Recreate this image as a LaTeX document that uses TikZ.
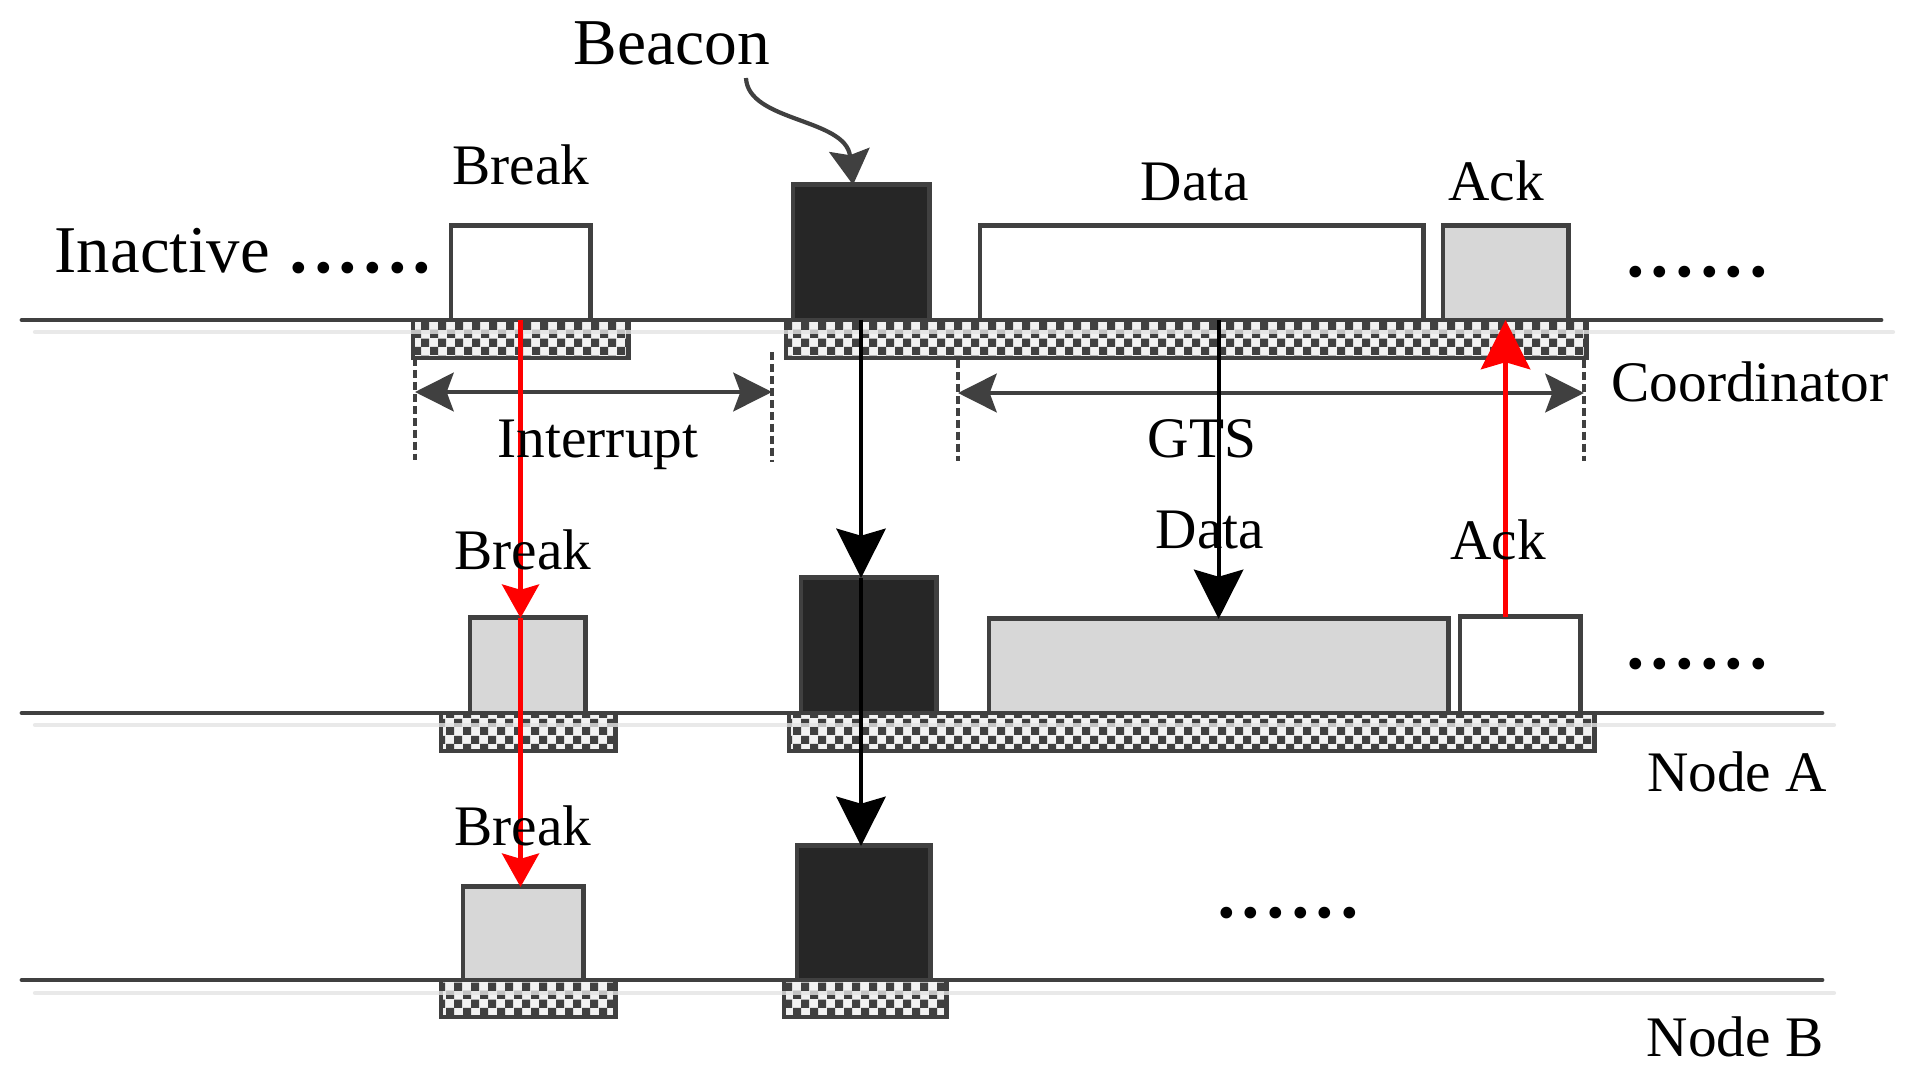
\documentclass[tikz,border=0pt]{standalone}
\usepackage{fontspec}
\setmainfont{Liberation Serif}
\usetikzlibrary{arrows.meta,patterns}

% chequered slot bars
\pgfdeclarepatternformonly{chequer}{\pgfqpoint{0pt}{0pt}}{\pgfqpoint{4.7pt}{4.7pt}}{\pgfqpoint{4.7pt}{4.7pt}}{%
  \pgfpathrectangle{\pgfqpoint{0pt}{0pt}}{\pgfqpoint{2.35pt}{2.35pt}}%
  \pgfpathrectangle{\pgfqpoint{2.35pt}{2.35pt}}{\pgfqpoint{2.35pt}{2.35pt}}%
  \pgfusepath{fill}}

\definecolor{linegray}{HTML}{404040}
\definecolor{beaconfill}{HTML}{262626}
\definecolor{slotgray}{HTML}{D7D7D7}
\definecolor{shadowgray}{HTML}{E3E3E3}
\definecolor{chklight}{HTML}{F2F2F2}

\tikzset{
  slot/.style={draw=linegray, line width=1.4pt, inner sep=0pt, outer sep=0pt, anchor=south west},
  bar/.style={draw=linegray, line width=1.4pt, inner sep=0pt, outer sep=0pt, anchor=north west,
    minimum height=0.38cm, preaction={fill=chklight}, pattern=chequer, pattern color=linegray},
  lbl/.style={anchor=base, inner sep=0pt, font=\fontsize{16.3}{19}\selectfont},
  dots/.style={anchor=base, inner sep=0pt, font=\fontsize{28}{30}\selectfont},
  timeline/.style={draw=linegray, line width=1.4pt, line cap=round},
  shadow/.style={draw=shadowgray, line width=1.2pt, line cap=round, opacity=.8},
  bound/.style={draw=linegray, line width=1.1pt, dash pattern=on 2.3pt off 1.1pt},
  span/.style={draw=linegray, line width=1.2pt,
    {Stealth[length=11pt,width=11pt,inset=2pt]}-{Stealth[length=11pt,width=11pt,inset=2pt]}},
  bigtip/.style={-{Stealth[length=14pt,width=14pt,inset=2pt]}},
  smalltip/.style={-{Stealth[length=9.5pt,width=10.5pt,inset=1.5pt]}},
  redline/.style={draw=red, line width=1.3pt},
  blackline/.style={draw=black, line width=1.2pt}
}

\begin{document}
\begin{tikzpicture}[x=0.01cm, y=-0.01cm]
\useasboundingbox (0,0) rectangle (1905,1082);

% time lines
\draw[timeline] (22,320) -- (1881,320);
\draw[timeline] (22,713) -- (1822,713);
\draw[timeline] (22,980) -- (1822,980);

% chequered bars
\node[bar, minimum width=2.15cm] (chkCa) at (413,320) {};
\node[bar, minimum width=8.00cm] (chkCb) at (786,320) {};
\node[bar, minimum width=1.74cm] (chkAa) at (441,713) {};
\node[bar, minimum width=8.05cm] (chkAb) at (789,713) {};
\node[bar, minimum width=1.74cm, minimum height=0.37cm] (chkBa) at (441,980) {};
\node[bar, minimum width=1.62cm, minimum height=0.37cm] (chkBb) at (784,980) {};

% shadows
\draw[shadow] (35,332) -- (1893,332);
\draw[shadow] (35,725) -- (1834,725);
\draw[shadow] (35,993) -- (1834,993);

% Coordinator
\node[slot, fill=white, minimum width=1.39cm, minimum height=0.94cm] (brkC) at (451,320) {};
\node[slot, fill=beaconfill, minimum width=1.36cm, minimum height=1.35cm] (bcnC) at (793,320) {};
\node[slot, fill=white, minimum width=4.43cm, minimum height=0.94cm] (dataC) at (980,320) {};
\node[slot, fill=slotgray, minimum width=1.25cm, minimum height=0.94cm] (ackC) at (1443,320) {};

% Node A
\node[slot, fill=slotgray, minimum width=1.15cm, minimum height=0.95cm] (brkA) at (470,713) {};
\node[slot, fill=beaconfill, minimum width=1.35cm, minimum height=1.35cm] (bcnA) at (801,713) {};
\node[slot, fill=slotgray, minimum width=4.59cm, minimum height=0.94cm] (dataA) at (989,713) {};
\node[slot, fill=white, minimum width=1.20cm, minimum height=0.96cm] (ackA) at (1460,713) {};

% Node B
\node[slot, fill=slotgray, minimum width=1.20cm, minimum height=0.93cm] (brkB) at (463,980) {};
\node[slot, fill=beaconfill, minimum width=1.33cm, minimum height=1.34cm] (bcnB) at (797,980) {};

% Interrupt y GTS
\draw[bound] (415,358) -- (415,460);
\draw[bound] (772,352) -- (772,462);
\draw[bound] (958,360) -- (958,461);
\draw[bound] (1584,360) -- (1584,461);
\coordinate (intL) at (415,392);
\coordinate (intR) at (772,392);
\coordinate (gtsL) at (958,393);
\coordinate (gtsR) at (1584,393);
\draw[span] (intL) -- (intR);
\draw[span] (gtsL) -- (gtsR);

% flechas
\draw[redline, smalltip] (brkC.south) -- (brkC.south |- brkA.north);
\draw[redline, smalltip] (brkC.south |- brkA.north) -- (brkC.south |- brkB.north);
\draw[blackline, bigtip] (bcnC.south) -- (bcnC.south |- bcnA.north);
\draw[blackline, bigtip] (bcnC.south |- bcnA.north) -- (bcnC.south |- bcnB.north);
\draw[blackline, bigtip] (dataA.north |- dataC.south) -- (dataA.north);
\draw[redline, bigtip] (ackC.south |- ackA.north) -- (ackC.south);

% Beacon
\node[anchor=base, inner sep=0pt, font=\fontsize{18.6}{22}\selectfont] (beacon) at (672,65) {Beacon};
\coordinate (bcnTail) at (746,78);
\draw[draw=linegray, line width=1.2pt, -{Stealth[length=10pt,width=11.5pt,inset=1.5pt]}]
  (bcnTail) .. controls (748,122) and (846,118) .. ([xshift=-0.08cm]bcnC.north);

% textos
\node[anchor=base west, inner sep=0pt] (inactive) at (54,273)
  {\fontsize{19}{22}\selectfont Inactive \fontsize{28}{30}\selectfont......};
\node[lbl] (brkClbl) at (521,185) {Break};
\node[lbl] (dataClbl) at (1195,201) {Data};
\node[lbl] (ackClbl) at (1496,201) {Ack};
\node[dots] (dotsC) at (1697,277) {......};
\node[lbl] (intlbl) at (598,458) {Interrupt};
\node[lbl] (gtslbl) at (1202,458) {GTS};
\node[lbl] (coordlbl) at (1750,402) {Coordinator};
\node[lbl] (brkAlbl) at (523,570) {Break};
\node[lbl] (dataAlbl) at (1210,548) {Data};
\node[lbl] (ackAlbl) at (1498,560) {Ack};
\node[dots] (dotsA) at (1697,668) {......};
\node[lbl] (nodeAlbl) at (1737,791) {Node A};
\node[lbl] (brkBlbl) at (523,845) {Break};
\node[dots] (dotsB) at (1288,917) {......};
\node[lbl] (nodeBlbl) at (1735,1056) {Node B};
\end{tikzpicture}
\end{document}
